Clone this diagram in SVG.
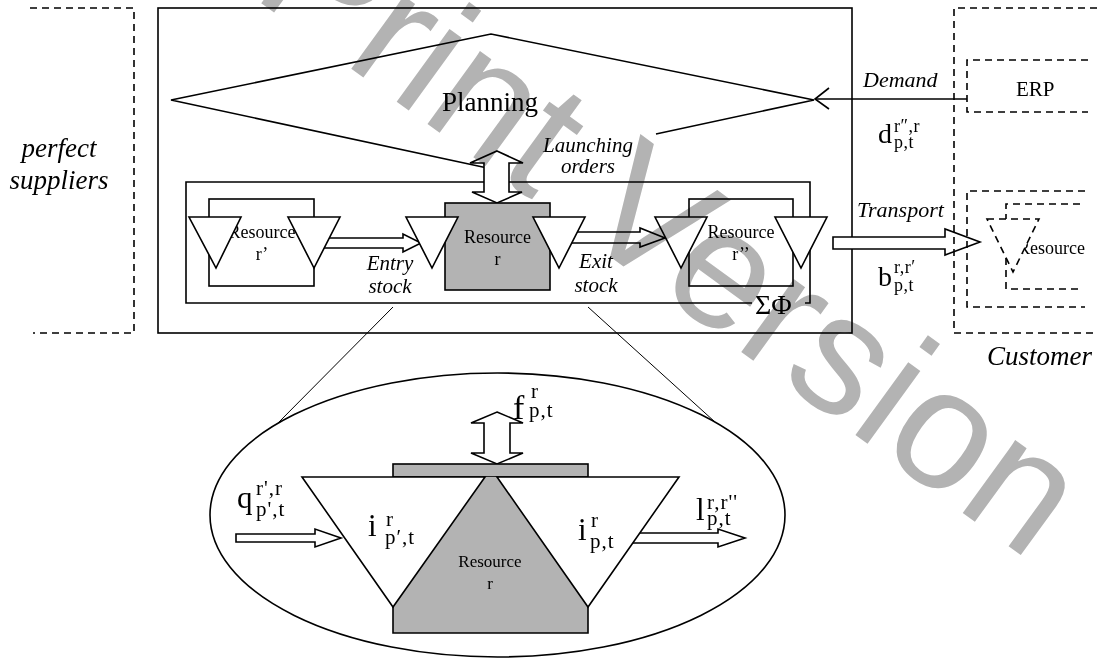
<svg xmlns="http://www.w3.org/2000/svg" width="1097" height="661" viewBox="0 0 1097 661">
<style>
.s{stroke:#000;stroke-width:1.6;fill:none}
.w{fill:#fff;stroke:#000;stroke-width:1.6}
.g{fill:#b3b3b3;stroke:#000;stroke-width:1.6}
.gf{fill:#b3b3b3;stroke:none}
.d{stroke-dasharray:7 5}
.thin{stroke:#000;stroke-width:1;fill:none}
text{font-family:"Liberation Serif","Times New Roman",serif;fill:#000}
.it{font-style:italic}
.res{font-size:18px;text-anchor:middle}
.lab{font-size:21px;font-style:italic;text-anchor:middle}
.m{font-size:31px}
.sc{font-size:21px;letter-spacing:1px}
.m2{font-size:28px}
.sc2{font-size:18px;letter-spacing:0.5px}
.wm{font-family:"Liberation Sans",Arial,sans-serif;font-size:170px;fill:#b3b3b3;mix-blend-mode:multiply}
</style>
<rect width="1097" height="661" fill="#fff"/>

<g id="suppliers">
<path class="s d" d="M30,8 H134 V333 H33"/>
<text class="it" x="59" y="157" font-size="27" text-anchor="middle">perfect</text>
<text class="it" x="59" y="189" font-size="27" text-anchor="middle">suppliers</text>
</g>

<g id="system">
<rect class="s" x="158" y="8" width="694" height="325"/>
</g>

<g id="planning">
<path class="s" d="M492,169 L171,100 L491,34 L814,100 L656,134"/>
<text x="490" y="111" font-size="27" text-anchor="middle">Planning</text>
<text class="lab" x="588" y="152">Launching</text>
<text class="lab" x="588" y="173">orders</text>
</g>

<g id="production-system">
<path class="s" d="M752,303 H186 V182 H810 V303 H805"/>
<text x="755" y="314" font-size="28">ΣΦ</text>
</g>

<g id="detail">
<ellipse class="s" cx="497.5" cy="515" rx="287.5" ry="142"/>
</g>

<g id="connectors">
<line class="thin" x1="393" y1="307" x2="278" y2="423"/>
<line class="thin" x1="588" y1="307" x2="715" y2="422"/>
<polygon class="w" points="497,151 523,163 509,163 509,192 522,192 497,203 472,192 484,192 484,163 470,163"/>
<polygon class="w" points="320,238 403,238 403,234 421,243 403,252 403,248 320,248"/>
<polygon class="w" points="565,232 640,232 640,228 665,238 640,247 640,243 565,243"/>
<polygon class="w" points="833,237 945,237 945,229 980,242 945,255 945,249 833,249"/>
<line class="s" x1="967" y1="99" x2="815" y2="99"/>
<polyline class="s" points="829,88 815,99 829,109"/>
<polygon class="w" points="497,412 523,423 510,423 510,453 523,453 497,464 471,453 484,453 484,423 471,423"/>
<polygon class="w" points="236,534 315,534 315,529 341,538 315,547 315,542 236,542"/>
<polygon class="w" points="630,533 718,533 718,529 745,538 718,547 718,543 630,543"/>
</g>

<g id="resource-r1">
<rect class="w" x="209" y="199" width="105" height="87"/>
<text class="res" x="262" y="238">Resource</text>
<text class="res" x="262" y="260">r’</text>
<polygon class="w" points="189,217 241,217 216,268"/>
<polygon class="w" points="288,217 340,217 314,268"/>
</g>

<g id="resource-r">
<rect class="g" x="445" y="203" width="105" height="87"/>
<text class="res" x="497.5" y="243">Resource</text>
<text class="res" x="497.5" y="265">r</text>
<polygon class="w" points="406,217 458,217 432,268"/>
<polygon class="w" points="533,217 585,217 559,268"/>
<text class="lab" x="390" y="270">Entry</text>
<text class="lab" x="390" y="293">stock</text>
<text class="lab" x="596" y="268">Exit</text>
<text class="lab" x="596" y="292">stock</text>
</g>

<g id="resource-r2">
<rect class="w" x="689" y="199" width="104" height="87"/>
<text class="res" x="741" y="238">Resource</text>
<text class="res" x="741" y="260">r’’</text>
<polygon class="w" points="655,217 707,217 681,268"/>
<polygon class="w" points="775,217 827,217 801,268"/>
</g>

<g id="resource-detail">
<rect class="g" x="393" y="464" width="195" height="13"/>
<polygon class="gf" points="393,633 393,607 485,477 497,477 588,607 588,633"/>
<polyline class="s" points="393,607 393,633 588,633 588,607"/>
<polygon class="w" points="302,477 485,477 393,607"/>
<polygon class="w" points="497,477 679,477 588,607"/>
<text x="490" y="567" font-size="17" text-anchor="middle">Resource</text>
<text x="490" y="589" font-size="17" text-anchor="middle">r</text>
</g>

<g id="customer">
<path class="s d" d="M1097,8 H954 V333 H1097"/>
<text class="it" x="987" y="365" font-size="27">Customer</text>
</g>

<g id="erp">
<path class="s d" d="M1088,60 H967 V112 H1088"/>
<text x="1016" y="96" font-size="21">ERP</text>
</g>

<g id="customer-resource">
<path class="s d" d="M1085,191 H967 V307 H1085"/>
<path class="s d" d="M1080,204 H1006 V219 M1006,258 V289 H1080"/>
<text x="1018" y="254" font-size="18">Resource</text>
<polygon class="w d" points="987,219 1039,219 1013,272"/>
</g>

<g id="labels">
<text class="it" x="863" y="87" font-size="22">Demand</text>
<text class="it" x="857" y="217" font-size="22">Transport</text>
<text class="m2" x="878" y="143">d</text>
<text class="sc2" x="894" y="132">r″,r</text>
<text class="sc2" x="894" y="148">p,t</text>
<text class="m2" x="878" y="286">b</text>
<text class="sc2" x="894" y="273">r,r′</text>
<text class="sc2" x="894" y="291">p,t</text>
<text x="513" y="419" font-size="34">f</text>
<text class="sc" x="531" y="398">r</text>
<text class="sc" x="529" y="417">p,t</text>
<text class="m" x="237" y="508">q</text>
<text class="sc" x="256" y="495">r',r</text>
<text class="sc" x="256" y="516">p',t</text>
<text class="m" x="368" y="536">i</text>
<text class="sc" x="386" y="526">r</text>
<text class="sc" x="385" y="544">p′,t</text>
<text class="m" x="578" y="540">i</text>
<text class="sc" x="591" y="527">r</text>
<text class="sc" x="590" y="548">p,t</text>
<text class="m" x="696" y="520">l</text>
<text class="sc" x="707" y="509">r,r''</text>
<text class="sc" x="707" y="525">p,t</text>
</g>

<text class="wm" transform="translate(250,-5) rotate(36)">Print Version</text>
</svg>
